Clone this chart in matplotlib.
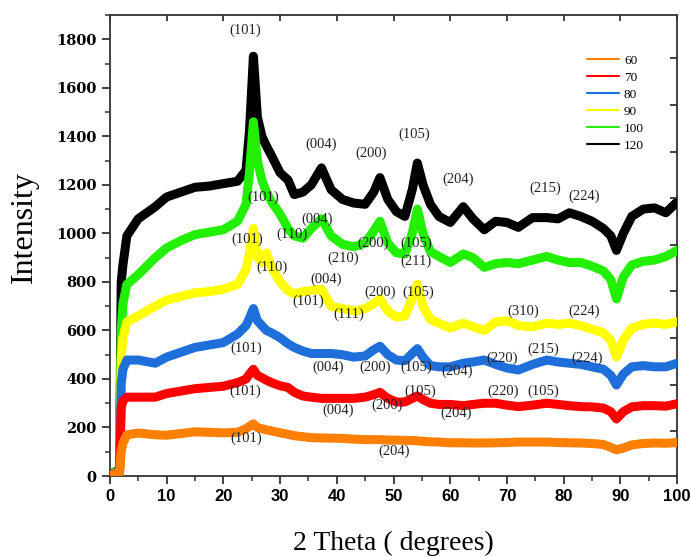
import numpy as np
import matplotlib
matplotlib.use("Agg")
from matplotlib import pyplot as plt

# 2 theta positions (degrees) where the curves were read
two_theta = [0, 1, 1.7, 2.0, 2.3, 3, 5, 8, 10, 12.5, 15, 17.5, 20, 22.5, 24, 24.6,
             25.3, 26, 26.8, 27.6, 28.5, 30, 31.4, 32.5, 34, 35.5, 37.3, 39, 41, 43,
             45, 46.5, 47.6, 49, 50.5, 52, 53.3, 54.2, 55.2, 56.5, 58, 60, 62.3, 64,
             66, 68, 70, 72, 74.5, 77, 79, 81, 83, 85, 87, 88.3, 89.3, 90.5, 92, 94,
             96, 98, 100]

i_120 = [10, 15, 30, 800, 870, 990, 1060, 1110, 1150, 1170, 1190, 1195, 1205, 1215, 1260, 1420,
         1730, 1480, 1400, 1360, 1320, 1250, 1220, 1160, 1170, 1200, 1270, 1180, 1140, 1125,
         1120, 1170, 1230, 1140, 1090, 1070, 1180, 1290, 1200, 1120, 1070, 1045, 1110, 1060,
         1015, 1050, 1045, 1025, 1065, 1065, 1060, 1085, 1070, 1050, 1020, 990, 930, 1000, 1070, 1100,
         1105, 1085, 1130]
i_100 = [8, 12, 25, 600, 710, 790, 830, 900, 940, 970, 995, 1005, 1015, 1050, 1120, 1250,
         1460, 1300, 1220, 1170, 1130, 1080, 1020, 990, 980, 1020, 1060, 990, 955, 945,
         960, 1010, 1050, 960, 920, 915, 1000, 1100, 1000, 925, 905, 880, 915, 900,
         860, 875, 880, 875, 890, 905, 890, 880, 880, 865, 845, 810, 730, 820, 870, 885,
         890, 905, 930]
i_90 = [5, 10, 20, 480, 570, 635, 660, 700, 725, 740, 755, 760, 770, 790, 850, 920,
        1020, 900, 880, 920, 860, 800, 765, 750, 760, 765, 770, 700, 690, 680,
        690, 710, 730, 680, 655, 660, 730, 790, 700, 645, 630, 610, 630, 615,
        600, 635, 640, 620, 615, 630, 625, 630, 620, 605, 590, 560, 490, 560, 610, 625,
        630, 625, 635]
i_80 = [5, 8, 15, 380, 440, 478, 478, 465, 490, 510, 530, 540, 550, 585, 620, 650,
        690, 640, 620, 600, 590, 570, 545, 530, 515, 505, 505, 505, 500, 490,
        495, 520, 535, 500, 478, 475, 505, 525, 490, 455, 450, 450, 465, 470,
        478, 460, 445, 437, 460, 478, 470, 465, 460, 450, 440, 415, 375, 420, 450, 455,
        450, 450, 465]
i_70 = [5, 8, 15, 280, 310, 325, 325, 325, 340, 350, 360, 365, 370, 385, 400, 420,
        440, 415, 405, 395, 385, 372, 365, 345, 330, 325, 320, 320, 320, 320,
        325, 335, 345, 320, 305, 305, 320, 330, 315, 300, 295, 295, 290, 295,
        300, 300, 292, 286, 292, 300, 295, 290, 286, 285, 280, 265, 235, 265, 285, 290,
        290, 288, 298]
i_60 = [3, 6, 12, 100, 135, 170, 177, 170, 168, 175, 182, 180, 178, 180, 195, 205,
        215, 200, 195, 190, 186, 178, 172, 166, 162, 158, 157, 156, 155, 152,
        150, 150, 150, 148, 148, 147, 146, 145, 143, 141, 140, 137, 137, 136,
        136, 137, 138, 140, 140, 140, 138, 137, 136, 134, 130, 118, 108, 115, 128, 134,
        136, 135, 138]

labels = ["60", "70", "80", "90", "100", "120"]
colors = ["#FF8000", "#FF0000", "#1F6FDB", "#FFFF00", "#22F000", "#000000"]
series = [i_60, i_70, i_80, i_90, i_100, i_120]

# peak labels: (text, 2theta, intensity)
peak_labels = [
    ("(101)", 23.8, 1837), ("(004)", 37.2, 1367), ("(200)", 46.0, 1330), ("(105)", 53.6, 1409),
    ("(204)", 61.4, 1223), ("(215)", 76.7, 1186), ("(224)", 83.6, 1153),
    ("(101)", 27.0, 1149), ("(110)", 32.1, 997), ("(004)", 36.5, 1058), ("(210)", 41.1, 898),
    ("(200)", 46.4, 960), ("(105)", 54.0, 960), ("(211)", 54.0, 886),
    ("(101)", 24.2, 976), ("(110)", 28.6, 861), ("(004)", 38.1, 811), ("(101)", 34.9, 721),
    ("(111)", 42.2, 667), ("(200)", 47.6, 758), ("(105)", 54.3, 758), ("(310)", 72.8, 680),
    ("(224)", 83.6, 680),
    ("(101)", 24.0, 527), ("(004)", 38.4, 449), ("(200)", 46.7, 449), ("(105)", 54.0, 449),
    ("(204)", 61.2, 432), ("(220)", 69.1, 486), ("(215)", 76.4, 523), ("(224)", 84.1, 486),
    ("(101)", 23.8, 350), ("(004)", 40.2, 272), ("(200)", 48.9, 292), ("(105)", 54.7, 350),
    ("(204)", 61.0, 259), ("(220)", 69.3, 350), ("(105)", 76.4, 350),
    ("(101)", 24.0, 156), ("(204)", 50.1, 103),
]

fig = plt.figure(figsize=(6.91, 5.57), dpi=100)
ax = fig.add_axes([0.159, 0.1454, 0.821, 0.8276])

for k, (vals, lab, col) in enumerate(zip(series, labels, colors)):
    ax.plot(two_theta, vals, color=col, lw=6.5, solid_joinstyle="round",
            solid_capstyle="round", zorder=10 - k, label=lab)

for txt, x, y in peak_labels:
    ax.text(x, y, txt, ha="center", va="center", fontsize=10.5,
            family="Liberation Serif", color="#222222", zorder=20)

ax.set_xlim(0, 100)
ax.set_ylim(0, 1900)
ax.set_xticks(np.arange(0, 101, 10))
ax.set_xticks(np.arange(0, 101, 5), minor=True)
ax.set_yticks(np.arange(0, 1801, 200))
ax.set_yticks(np.arange(0, 1901, 100), minor=True)
ax.tick_params(which="major", direction="out", length=6, width=1.3, color="#333333")
ax.tick_params(which="minor", direction="out", length=3.5, width=1.1, color="#333333")
for t in ax.get_xticklabels():
    t.set_fontfamily("Liberation Sans")
    t.set_fontweight("bold")
    t.set_fontsize(12)
for t in ax.get_yticklabels():
    t.set_fontfamily("DejaVu Serif")
    t.set_fontweight("bold")
    t.set_fontsize(10.5)
for s in ax.spines.values():
    s.set_color("#333333")
    s.set_linewidth(1.3)

# inward ticks on top and right frame
ax2 = ax.twinx()
ax2.set_ylim(0, 1900)
ax2.set_yticks(np.arange(185, 1900, 192))
ax2.set_yticklabels([])
ax2.tick_params(direction="in", length=5, width=1.3, color="#333333")
for s in ax2.spines.values():
    s.set_visible(False)
secx = ax.secondary_xaxis("top")
secx.set_xticks(np.arange(0, 101, 10))
secx.set_xticklabels([])
secx.tick_params(direction="in", length=4, width=1.3, color="#333333")
secx.spines["top"].set_visible(False)

ax.set_xlabel("2 Theta ( degrees)", family="Liberation Serif", fontsize=20, labelpad=19)
ax.set_ylabel("Intensity", family="Liberation Serif", fontsize=23)
ax.yaxis.set_label_coords(-0.125, 0.54)

handles, labs = ax.get_legend_handles_labels()
leg = ax.legend(handles, labs, loc="upper left", bbox_to_anchor=(0.82, 0.94), frameon=False,
                prop={"family": "Liberation Serif", "size": 9.5}, handlelength=2.4,
                labelspacing=0.36, handletextpad=0.4)
for line in leg.get_lines():
    line.set_linewidth(1.5)

fig.savefig("out.png", dpi=100)
